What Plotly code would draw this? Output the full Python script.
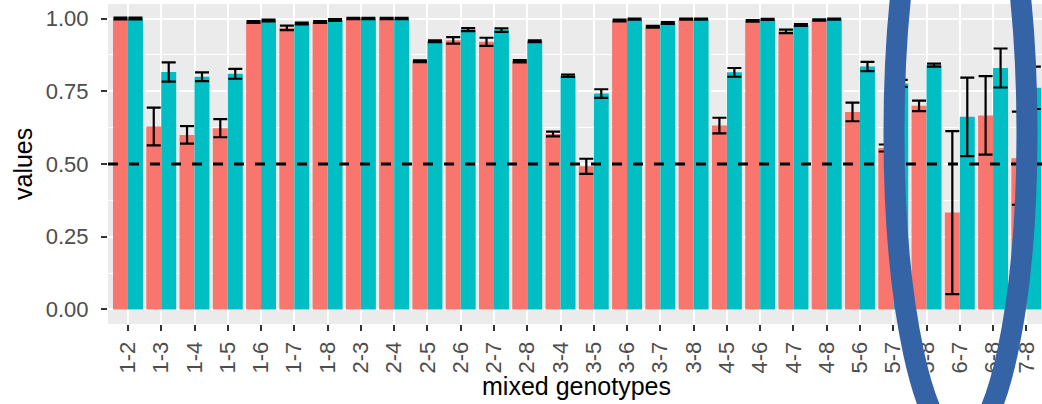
import plotly.graph_objects as go

categories = ["1-2", "1-3", "1-4", "1-5", "1-6", "1-7", "1-8", "2-3", "2-4", "2-5",
              "2-6", "2-7", "2-8", "3-4", "3-5", "3-6", "3-7", "3-8", "4-5", "4-6",
              "4-7", "4-8", "5-6", "5-7", "5-8", "6-7", "6-8", "7-8"]

red_values = [1.00, 0.629, 0.600, 0.623, 0.988, 0.968, 0.988, 1.00, 1.00, 0.853,
              0.925, 0.920, 0.853, 0.603, 0.492, 0.993, 0.972, 0.998, 0.632, 0.992,
              0.956, 0.995, 0.679, 0.555, 0.700, 0.333, 0.667, 0.520]
red_errors = [0.003, 0.065, 0.030, 0.031, 0.003, 0.008, 0.003, 0.002, 0.002, 0.003,
              0.011, 0.014, 0.004, 0.008, 0.026, 0.003, 0.003, 0.002, 0.027, 0.003,
              0.006, 0.002, 0.032, 0.012, 0.018, 0.280, 0.135, 0.160]

teal_values = [1.00, 0.816, 0.800, 0.810, 0.993, 0.983, 0.995, 1.00, 1.00, 0.922,
               0.962, 0.960, 0.922, 0.803, 0.742, 0.998, 0.985, 0.998, 0.815, 0.997,
               0.978, 0.998, 0.835, 0.777, 0.840, 0.662, 0.830, 0.762]
teal_errors = [0.003, 0.033, 0.015, 0.017, 0.003, 0.003, 0.003, 0.002, 0.002, 0.003,
               0.005, 0.006, 0.003, 0.004, 0.015, 0.002, 0.003, 0.002, 0.015, 0.002,
               0.003, 0.002, 0.016, 0.012, 0.005, 0.135, 0.067, 0.073]

y_ticks = [0.0, 0.25, 0.5, 0.75, 1.0]
y_tick_labels = ["0.00", "0.25", "0.50", "0.75", "1.00"]
threshold = 0.5

W, H = 1042, 404
ML, MR, MT, MB = 108, 0, 4, 80
PW, PH = W - ML - MR, H - MT - MB

def px_x(px):
    return (px - ML) / PW

def px_y(py):
    return (H - MB - py) / PH

FONT = "Liberation Sans, Arial, Helvetica, sans-serif"

fig = go.Figure()
for name, vals, errs, col in [("A", red_values, red_errors, "#F8766D"),
                              ("B", teal_values, teal_errors, "#00BFC4")]:
    fig.add_trace(go.Bar(
        x=categories, y=vals, name=name, marker=dict(color=col, line=dict(width=0)),
        error_y=dict(type="data", array=errs, visible=True, color="black",
                     thickness=2.2, width=7),
    ))

fig.add_hline(y=threshold, line=dict(color="black", width=3, dash="10px,11px"))

fig.update_layout(
    width=W, height=H,
    margin=dict(l=ML, r=MR, t=MT, b=MB, pad=0, autoexpand=False),
    barmode="group", bargap=0.1, bargroupgap=0,
    paper_bgcolor="white", plot_bgcolor="#EBEBEB",
    showlegend=False,
    font=dict(family=FONT, color="#4D4D4D", size=21),
    xaxis=dict(
        type="category", range=[-0.6, 27.47], showgrid=True, gridcolor="white",
        gridwidth=2, ticks="outside", ticklen=6, tickwidth=1.5, tickcolor="#333333",
        tickangle=-90, tickfont=dict(size=22, color="#4D4D4D"), zeroline=False,
        showline=False, fixedrange=True, automargin=False, ticklabelstandoff=2,
    ),
    yaxis=dict(
        range=[-0.05, 1.05], tickvals=y_ticks, ticktext=y_tick_labels,
        showgrid=True, gridcolor="white", gridwidth=2,
        minor=dict(tickvals=[0.125, 0.375, 0.625, 0.875], showgrid=True,
                   gridcolor="white", gridwidth=1, ticks=""),
        ticks="outside", ticklen=6, tickwidth=1.5, tickcolor="#333333",
        tickfont=dict(size=22, color="#4D4D4D"), zeroline=False, showline=False,
        ticklabelstandoff=8, automargin=False,
    ),
)

fig.add_annotation(text="values", xref="paper", yref="paper", x=px_x(23), y=px_y(164),
                   xanchor="center", yanchor="middle", textangle=-90, showarrow=False,
                   font=dict(size=25, color="black", family=FONT))
fig.add_annotation(text="mixed genotypes", xref="paper", yref="paper", x=px_x(576),
                   y=px_y(386), xanchor="center", yanchor="middle", showarrow=False,
                   font=dict(size=25, color="black", family=FONT))

# highlight ellipse
fig.add_shape(type="circle", xref="paper", yref="paper",
              x0=px_x(894), x1=px_x(1027), y0=px_y(443), y1=px_y(-177),
              line=dict(color="#3463A6", width=21), fillcolor="rgba(0,0,0,0)",
              layer="above")

fig.write_html("out.html", config={"displayModeBar": False},
               post_script="document.body.style.margin='0';document.body.style.padding='0';"
                           "document.body.style.overflow='hidden';")
